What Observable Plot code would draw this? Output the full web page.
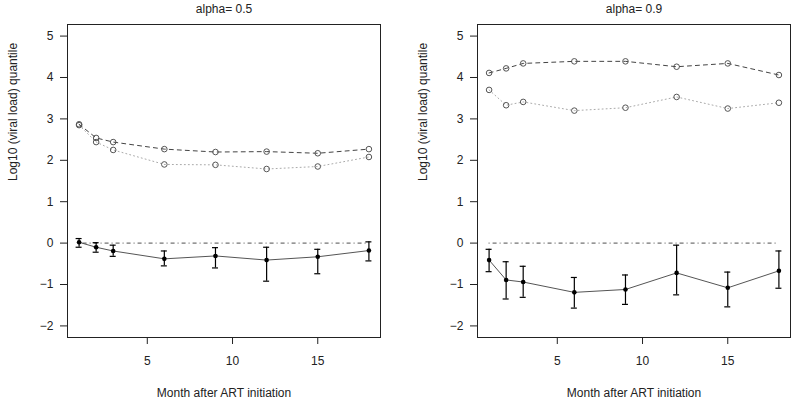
<!DOCTYPE html>
<html><head><meta charset="utf-8">
<script src="https://cdn.jsdelivr.net/npm/d3@7"></script>
<script src="https://cdn.jsdelivr.net/npm/@observablehq/plot@0.6"></script>
<style>
body{margin:0;background:#fff}
#c{display:flex;width:800px;height:406px}
</style>
</head><body><div id="c"></div>
<script>
const months = [1, 2, 3, 6, 9, 12, 15, 18];
const panelTitles = ["alpha= 0.5", "alpha= 0.9"];
const xLabel = "Month after ART initiation";
const yLabel = "Log10 (viral load) quantile";
const xTicks = [5, 10, 15];
const yTicks = [-2, -1, 0, 1, 2, 3, 4, 5];

// alpha = 0.5
const upperQ_a05 = [2.87, 2.54, 2.44, 2.27, 2.20, 2.21, 2.17, 2.27];
const lowerQ_a05 = [2.85, 2.44, 2.25, 1.90, 1.89, 1.79, 1.85, 2.08];
const est_a05    = [0.02, -0.10, -0.19, -0.38, -0.31, -0.41, -0.33, -0.18];
const ciHi_a05   = [0.11, 0.01, -0.05, -0.19, -0.11, -0.10, -0.15, 0.03];
const ciLo_a05   = [-0.10, -0.22, -0.32, -0.55, -0.60, -0.92, -0.74, -0.43];

// alpha = 0.9
const upperQ_a09 = [4.11, 4.22, 4.34, 4.39, 4.39, 4.26, 4.34, 4.06];
const lowerQ_a09 = [3.70, 3.33, 3.41, 3.20, 3.27, 3.53, 3.25, 3.39];
const est_a09    = [-0.41, -0.89, -0.94, -1.19, -1.12, -0.72, -1.08, -0.67];
const ciHi_a09   = [-0.15, -0.45, -0.56, -0.83, -0.77, -0.05, -0.70, -0.19];
const ciLo_a09   = [-0.69, -1.35, -1.31, -1.57, -1.48, -1.25, -1.54, -1.09];

function rows(up, lo, est, hi, low) {
  return months.map((m, i) => ({month: m, up: up[i], lo: lo[i], est: est[i], hi: hi[i], low: low[i]}));
}

const xLim = [1, 18], yLim = [-2, 5];
const pad = (l) => { const p = (l[1] - l[0]) * 0.04; return [l[0] - p, l[1] + p]; };

function panel(title, data, marginLeft, marginRight) {
  return Plot.plot({
    width: 400, height: 406,
    marginLeft, marginRight, marginTop: 24, marginBottom: 69,
    style: {fontFamily: "'Liberation Sans', Arial, Helvetica, sans-serif", fontSize: "12px", color: "#222", background: "#fff"},
    x: {domain: pad(xLim)},
    y: {domain: pad(yLim)},
    marks: [
      Plot.axisX({ticks: xTicks, tickSize: 7, tickPadding: 12, label: null, stroke: "#222"}),
      Plot.axisY({ticks: yTicks, tickSize: 7, tickPadding: 7, label: null, stroke: "#222"}),
      Plot.ruleY([0], {x1: d3.min(months), x2: d3.max(months), stroke: "#222", strokeWidth: 0.8, strokeDasharray: "1,3,4,3"}),
      Plot.line(data, {x: "month", y: "up", stroke: "#444", strokeWidth: 1, strokeDasharray: "4,4"}),
      Plot.line(data, {x: "month", y: "lo", stroke: "#aaa", strokeWidth: 1, strokeDasharray: "1,3"}),
      Plot.dot(data, {x: "month", y: "up", r: 2.8, stroke: "#555", fill: "none", strokeWidth: 1}),
      Plot.dot(data, {x: "month", y: "lo", r: 2.8, stroke: "#555", fill: "none", strokeWidth: 1}),
      Plot.line(data, {x: "month", y: "est", stroke: "#555", strokeWidth: 1}),
      Plot.ruleX(data, {x: "month", y1: "low", y2: "hi", stroke: "#000", strokeWidth: 1.2}),
      Plot.ruleY(data, {y: "hi", x1: "month", x2: "month", insetLeft: -3, insetRight: -3, stroke: "#000", strokeWidth: 1.2}),
      Plot.ruleY(data, {y: "low", x1: "month", x2: "month", insetLeft: -3, insetRight: -3, stroke: "#000", strokeWidth: 1.2}),
      Plot.dot(data, {x: "month", y: "est", r: 2.3, fill: "#000"}),
      Plot.frame({stroke: "#222"}),
      Plot.text([title], {text: d => d, frameAnchor: "top", dy: -15, lineAnchor: "middle", fontSize: 12, fill: "#222"}),
      Plot.text([xLabel], {text: d => d, frameAnchor: "bottom", dy: 55.5, lineAnchor: "middle", fontSize: 12, fill: "#222"}),
      Plot.text([yLabel], {text: d => d, frameAnchor: "left", dx: -54, rotate: -90, lineAnchor: "middle", fontSize: 12, fill: "#222"})
    ]
  });
}

const c = document.getElementById("c");
c.appendChild(panel(panelTitles[0], rows(upperQ_a05, lowerQ_a05, est_a05, ciHi_a05, ciLo_a05), 67, 20));
c.appendChild(panel(panelTitles[1], rows(upperQ_a09, lowerQ_a09, est_a09, ciHi_a09, ciLo_a09), 77, 10));
</script>
</body></html>
